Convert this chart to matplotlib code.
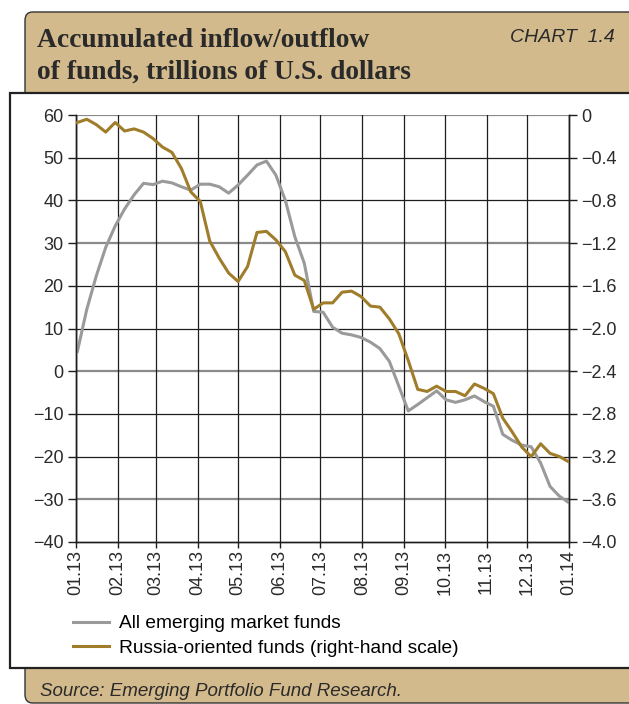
import numpy as np
import pandas as pd
import matplotlib
matplotlib.use("Agg")
import matplotlib.pyplot as plt
from matplotlib.patches import FancyBboxPatch, Rectangle
from matplotlib.lines import Line2D

# weekly observations, Jan 2013 - Jan 2014
dates = pd.date_range("2013-01-02", periods=53, freq="7D")

# all emerging market funds, left scale
em_funds = [4.6, 14.5, 22.3, 29.0, 34.0, 38.0, 41.3, 44.0, 43.7, 44.5,
            44.1, 43.2, 42.4, 43.8, 43.8, 43.2, 41.7, 43.6, 45.9, 48.3,
            49.2, 45.9, 40.0, 31.5, 25.3, 14.0, 13.8, 10.3, 8.9, 8.5,
            7.9, 6.8, 5.3, 2.3, -3.5, -9.3, -7.8, -6.2, -4.6, -6.7,
            -7.3, -6.7, -5.8, -7.1, -8.2, -14.8, -16.2, -17.3, -17.7, -21.5,
            -27.0, -29.3, -30.8]

# Russia-oriented funds, right scale
russia_funds = [-0.07, -0.04, -0.09, -0.16, -0.07, -0.15, -0.13, -0.16, -0.22, -0.30,
                -0.35, -0.50, -0.72, -0.81, -1.18, -1.34, -1.48, -1.56, -1.42, -1.10,
                -1.09, -1.17, -1.28, -1.50, -1.55, -1.82, -1.76, -1.76, -1.66, -1.65,
                -1.70, -1.79, -1.80, -1.91, -2.05, -2.30, -2.57, -2.59, -2.54, -2.59,
                -2.59, -2.63, -2.52, -2.56, -2.61, -2.84, -2.97, -3.11, -3.20, -3.08,
                -3.17, -3.20, -3.25]

month_ticks = pd.date_range("2013-01-01", "2014-01-01", freq="MS")
month_labels = ["01.13", "02.13", "03.13", "04.13", "05.13", "06.13", "07.13",
                "08.13", "09.13", "10.13", "11.13", "12.13", "01.14"]
left_ticks = [60, 50, 40, 30, 20, 10, 0, -10, -20, -30, -40]
left_labels = ["60", "50", "40", "30", "20", "10", "0", "\u221210", "\u221220", "\u221230", "\u221240"]
right_ticks = [0, -0.4, -0.8, -1.2, -1.6, -2.0, -2.4, -2.8, -3.2, -3.6, -4.0]
right_labels = ["0", "\u22120.4", "\u22120.8", "\u22121.2", "\u22121.6", "\u22122.0",
                "\u22122.4", "\u22122.8", "\u22123.2", "\u22123.6", "\u22124.0"]

TAN = "#D3BA8C"
GREY = "#9A9A9A"
GOLD = "#A07D2B"
TXT = "#2a2a2a"
SANS = ["Liberation Sans", "DejaVu Sans"]
FS = 13

W, H = 629, 704
fig = plt.figure(figsize=(W / 100, H / 100), dpi=100)
fig.patch.set_facecolor("white")

def fx(px):
    return px / W

def fy(py):
    return 1 - py / H

# header band
fig.patches.append(FancyBboxPatch((fx(25), fy(100)), fx(640), fy(12) - fy(100),
                                  boxstyle="round,pad=0,rounding_size=0.012",
                                  transform=fig.transFigure, facecolor=TAN,
                                  edgecolor="#333333", lw=1.0, zorder=0))
# footer band
fig.patches.append(FancyBboxPatch((fx(25), fy(703)), fx(640), fy(660) - fy(703),
                                  boxstyle="round,pad=0,rounding_size=0.012",
                                  transform=fig.transFigure, facecolor=TAN,
                                  edgecolor="#333333", lw=1.0, zorder=0))
# white chart panel
fig.patches.append(Rectangle((fx(10), fy(668)), fx(640), fy(93) - fy(668),
                             transform=fig.transFigure, facecolor="white",
                             edgecolor="#222222", lw=1.6, zorder=1))

fig.text(fx(37), fy(47), "Accumulated inflow/outflow", family="Liberation Serif",
         fontweight="bold", fontsize=19.8, color=TXT, va="baseline", ha="left")
fig.text(fx(37), fy(79), "of funds, trillions of U.S. dollars", family="Liberation Serif",
         fontweight="bold", fontsize=19.8, color=TXT, va="baseline", ha="left")
fig.text(fx(615), fy(42), "CHART  1.4", family=SANS, style="italic", fontsize=14,
         color=TXT, va="baseline", ha="right")
fig.text(fx(40), fy(696), "Source: Emerging Portfolio Fund Research.", family=SANS,
         style="italic", fontsize=13.5, color=TXT, va="baseline", ha="left")

ax = fig.add_axes([fx(76), fy(542), fx(569) - fx(76), fy(115) - fy(542)])
ax.set_zorder(2)
ax.patch.set_alpha(0)
ax2 = ax.twinx()

x0, x1 = month_ticks[0], month_ticks[-1]
ax.set_xlim(x0, x1)
ax.set_ylim(-40, 60)
ax2.set_ylim(-4.0, 0)

# grid
for v in left_ticks:
    if v in (60, 30, 0, -30):
        ax.axhline(v, color="#8a8a8a", lw=1.6, zorder=1)
    elif v != -40:
        ax.axhline(v, color="#1e1e1e", lw=0.9, zorder=1)
for d in month_ticks:
    ax.axvline(d, color="#1e1e1e", lw=0.9, zorder=1)

ax.plot(dates, em_funds, color=GREY, lw=2.2, zorder=3, solid_joinstyle="round")
ax2.plot(dates, russia_funds, color=GOLD, lw=2.2, zorder=3, solid_joinstyle="round")

for a in (ax, ax2):
    a.spines["top"].set_visible(False)
    for s in ("left", "right", "bottom"):
        a.spines[s].set_color("#1e1e1e")
        a.spines[s].set_linewidth(1.0)

ax.set_yticks(left_ticks)
ax.set_yticklabels(left_labels, family=SANS, fontsize=FS, color=TXT)
ax.tick_params(axis="y", direction="out", length=6, width=1, pad=3, color="#1e1e1e")
ax2.set_yticks(right_ticks)
ax2.set_yticklabels(right_labels, family=SANS, fontsize=FS, color=TXT)
ax2.tick_params(axis="y", direction="out", length=6, width=1, pad=3, color="#1e1e1e")

ax.set_xticks(month_ticks)
ax.set_xticklabels(month_labels, rotation=90, family=SANS, fontsize=FS, color=TXT)
ax.tick_params(axis="x", direction="out", length=4, width=1, pad=2, color="#1e1e1e")
ax2.set_xlim(x0, x1)

handles = [Line2D([], [], color=GREY, lw=2.2), Line2D([], [], color=GOLD, lw=2.2)]
fig.legend(handles, ["All emerging market funds", "Russia-oriented funds (right-hand scale)"],
           loc="upper left", bbox_to_anchor=(fx(73), fy(615)), frameon=False,
           prop={"family": SANS, "size": 13.8}, handlelength=1.9, handletextpad=0.5,
           labelspacing=0.35, borderpad=0, borderaxespad=0)

fig.savefig("out.png", dpi=100)
